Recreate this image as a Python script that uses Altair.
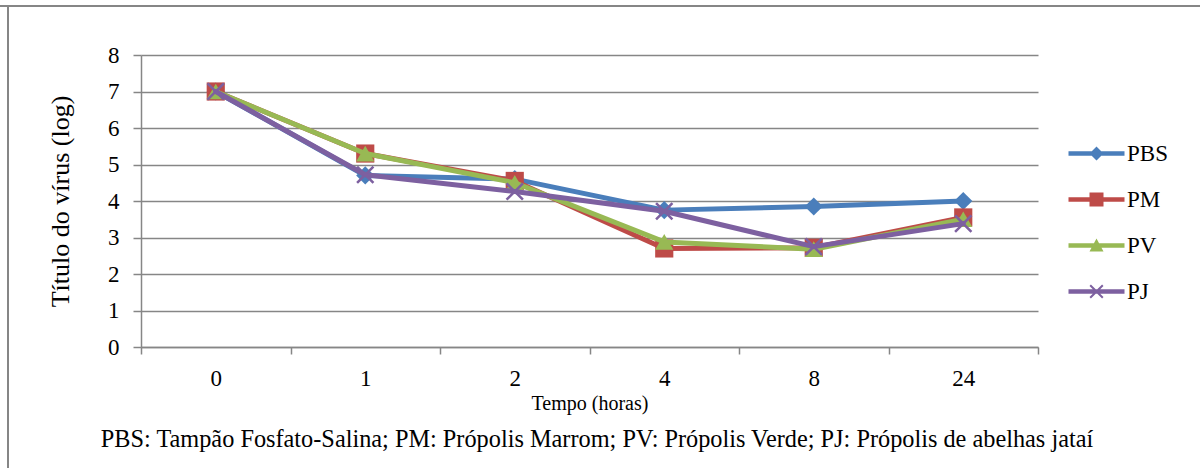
import altair as alt
import pandas as pd

# Tempo de incubação (horas) e título viral (log) por tratamento
tempos = ["0", "1", "2", "4", "8", "24"]
series = ["PBS", "PM", "PV", "PJ"]
pbs = [7.0, 4.70, 4.60, 3.75, 3.85, 4.00]
pm = [7.0, 5.30, 4.55, 2.70, 2.72, 3.55]
pv = [7.0, 5.30, 4.50, 2.88, 2.68, 3.50]
pj = [7.0, 4.72, 4.26, 3.72, 2.75, 3.38]
y_ticks = [0, 1, 2, 3, 4, 5, 6, 7, 8]

nota = ("PBS: Tampão Fosfato-Salina; PM: Própolis Marrom; "
        "PV: Própolis Verde; PJ: Própolis de abelhas jataí")

cores = ["#4A7EBB", "#BE4B48", "#98B954", "#7D60A0"]

# marker shapes (unit paths) and legend symbols = line segment + marker
x_path = ("M-1,-0.8L-0.8,-1L0,-0.2L0.8,-1L1,-0.8L0.2,0L1,0.8L0.8,1"
          "L0,0.2L-0.8,1L-1,0.8L-0.2,0Z")
marcadores = ["diamond", "square", "triangle-up", x_path]
barra = "M-4,-0.32H4V0.32H-4Z "
marcas_legenda = [
    barra + "M0,-1L1,0L0,1L-1,0Z",
    barra + "M-1,-1H1V1H-1Z",
    barra + "M0,-1L1,0.85H-1Z",
    barra + x_path,
]

valores = {"PBS": pbs, "PM": pm, "PV": pv, "PJ": pj}
df = pd.DataFrame(
    [{"tempo": t, "serie": s, "valor": v}
     for s in series for t, v in zip(tempos, valores[s])]
)

FONTE = "Liberation Serif"
CINZA = "#868686"

x_enc = alt.X(
    "tempo:N",
    sort=tempos,
    bandPosition=0.5,
    scale=alt.Scale(type="band", domain=tempos, paddingInner=0, paddingOuter=0),
    axis=alt.Axis(
        title="Tempo (horas)",
        labelAngle=0,
        tickBand="extent",
        tickSize=7,
        labelPadding=13,
        titlePadding=3,
        titleFontSize=20,
    ),
)
y_enc = alt.Y(
    "valor:Q",
    scale=alt.Scale(domain=[0, 8], nice=False),
    axis=alt.Axis(
        title="Título do vírus (log)",
        values=y_ticks,
        tickSize=8,
        labelPadding=14,
        titlePadding=34,
        titleFontSize=26,
    ),
)

base = alt.Chart(df)
camadas = []
for s, cor, forma in zip(series, cores, marcadores):
    sub = base.transform_filter(alt.datum.serie == s)
    camadas.append(
        sub.mark_line(color=cor, strokeWidth=5, strokeJoin="round", strokeCap="round")
        .encode(x=x_enc, y=y_enc)
    )
    camadas.append(
        sub.mark_point(shape=forma, filled=True, color=cor, size=330, opacity=1, strokeWidth=0)
        .encode(x=x_enc, y=y_enc)
    )

# legend built from the color/shape scales (no marks drawn)
legenda = (
    base.transform_filter("false")
    .mark_point(filled=True, opacity=1, strokeWidth=0)
    .encode(
        x=x_enc,
        y=y_enc,
        color=alt.Color("serie:N", scale=alt.Scale(domain=series, range=cores),
                        legend=alt.Legend(title=None)),
        shape=alt.Shape("serie:N", scale=alt.Scale(domain=series, range=marcas_legenda),
                        legend=alt.Legend(title=None)),
    )
)

rodape = (
    alt.Chart(pd.DataFrame({"nota": [nota]}))
    .mark_text(font=FONTE, fontSize=24.3, align="center", baseline="middle", color="black")
    .encode(text="nota:N", x=alt.value(456), y=alt.value(385))
)

moldura_topo = (
    alt.Chart(pd.DataFrame({"k": [0]}))
    .mark_rule(color=CINZA, strokeWidth=2)
    .encode(x=alt.value(-141), x2=alt.value(1059), y=alt.value(-49))
)
moldura_esq = (
    alt.Chart(pd.DataFrame({"k": [0]}))
    .mark_rule(color=CINZA, strokeWidth=2)
    .encode(x=alt.value(-133), y=alt.value(-50), y2=alt.value(413))
)

chart = (
    alt.layer(*camadas, legenda, rodape, moldura_topo, moldura_esq)
    .properties(
        width=897,
        height=292,
        autosize=alt.AutoSizeParams(type="none"),
        padding={"left": 141, "top": 55, "right": 162, "bottom": 121},
        background="white",
    )
    .configure(font=FONTE)
    .configure_view(stroke=None)
    .configure_axis(
        labelFont=FONTE,
        titleFont=FONTE,
        labelFontSize=23,
        labelColor="black",
        titleColor="black",
        titleFontWeight="normal",
        domainColor=CINZA,
        tickColor=CINZA,
        gridColor=CINZA,
        domainWidth=1.5,
        tickWidth=1.5,
        gridWidth=1.5,
    )
    .configure_axisX(grid=False)
    .configure_legend(
        orient="none",
        legendX=944,
        legendY=87,
        labelFont=FONTE,
        labelFontSize=23,
        labelColor="black",
        symbolSize=196,
        symbolStrokeWidth=0,
        labelOffset=19,
        rowPadding=22,
    )
)

chart.save("out.html", embed_options={"renderer": "svg", "actions": False})
